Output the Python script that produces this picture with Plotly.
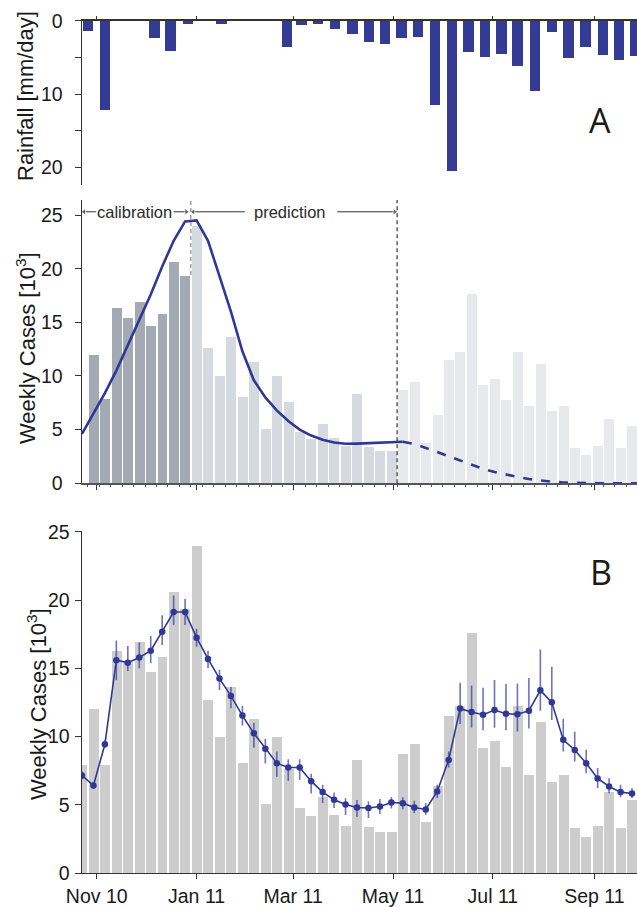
import pandas as pd
import plotly.graph_objects as go

# ---------------- data ----------------
# weekly reported cases (thousands), weeks centred on Saturdays from 23 Oct 2010
week_start = "2010-10-23"
weekly_cases = [7.9, 12.0, 7.9, 16.3, 15.45, 16.9, 14.7, 15.8, 20.6, 19.35,
                23.95, 12.65, 10.0, 13.6, 8.07, 11.3, 5.08, 10.0, 7.6, 4.74,
                4.17, 5.55, 4.25, 3.45, 8.3, 3.37, 2.98, 2.98, 8.7, 9.45,
                3.72, 6.35, 11.5, 12.27, 17.6, 9.15, 9.7, 7.78, 12.27, 7.2,
                11.1, 6.7, 7.2, 3.27, 2.66, 3.48, 5.97, 3.3, 5.37]

# model calibrated on the first weeks, then run forward (panel A)
model_calibrated = [4.6, 6.5, 8.4, 10.5, 12.9, 15.2, 17.6, 20.2, 22.6, 24.4,
                    24.5, 22.6, 19.4, 16.0, 12.3, 9.6, 8.0, 6.8, 5.8, 5.0,
                    4.45, 4.05, 3.8, 3.68, 3.7, 3.74, 3.8, 3.88, 3.87, 3.65,
                    3.3, 2.9, 2.5, 2.1, 1.7, 1.35, 1.05, 0.8, 0.6, 0.4,
                    0.25, 0.15, 0.08, 0.04, 0.02, 0.01, 0.01, 0.0, 0.0, 0.0]

# rainfall-driven model fit with uncertainty (panel B)
fit_mean = [7.15, 6.41, 9.44, 15.6, 15.42, 15.79, 16.3, 17.69, 19.13, 19.13,
            17.25, 15.69, 14.25, 12.98, 11.54, 10.24, 9.1, 8.05, 7.73, 7.73,
            6.73, 5.93, 5.37, 5.02, 4.8, 4.76, 4.88, 5.17, 5.12, 4.8,
            4.66, 5.98, 8.29, 12.05, 11.8, 11.6, 11.95, 11.68, 11.63, 11.9,
            13.39, 12.51, 9.76, 9.02, 8.05, 6.93, 6.34, 5.93, 5.83]
fit_err_hi = [0.3, 0.25, 0.3, 1.45, 1.22, 1.1, 1.08, 1.2, 1.22, 0.95,
              0.66, 0.61, 0.64, 0.68, 0.7, 0.78, 0.73, 0.85, 0.61, 0.61,
              0.54, 0.54, 0.54, 0.46, 0.56, 0.49, 0.54, 0.39, 0.44, 0.49,
              0.46, 0.49, 0.61, 1.9, 1.95, 1.98, 2.2, 2.18, 2.27, 2.4,
              3.0, 2.6, 1.54, 1.34, 0.98, 0.76, 0.61, 0.54, 0.39]
fit_err_lo = [0.3, 0.25, 0.3, 1.47, 0.61, 0.78, 0.93, 0.98, 0.95, 0.95,
              0.66, 0.68, 0.83, 0.9, 0.73, 1.05, 1.07, 1.0, 0.98, 0.9,
              0.9, 0.8, 0.61, 0.76, 0.7, 0.73, 0.56, 0.44, 0.44, 0.41,
              0.39, 0.49, 0.56, 1.13, 1.14, 1.14, 1.3, 1.22, 1.26, 1.3,
              1.5, 1.3, 0.85, 0.85, 0.73, 0.71, 0.49, 0.37, 0.34]

# dekadal rainfall (mm/day), from the 21-31 Oct 2010 dekad to 21-30 Sep 2011
rainfall = [1.36,
            12.1, 0.0, 0.0,
            2.31, 4.08, 0.41,
            0.0, 0.41, 0.0,
            0.0, 0.0, 3.54,
            0.54, 0.41, 1.09,
            1.77, 2.86, 3.13,
            2.31, 2.18, 11.43,
            20.4, 4.22, 4.9,
            4.49, 6.12, 9.52,
            1.5, 5.03, 3.54,
            4.63, 5.31, 4.76]

calibration_end = pd.Timestamp("2010-12-28 12:00")
prediction_end = pd.Timestamp("2011-05-03 12:00")

# ---------------- derived x positions ----------------
DAY_MS = 86400000
weeks = pd.date_range(week_start, periods=len(weekly_cases), freq="7D")
model_weeks = pd.date_range(week_start, periods=len(model_calibrated), freq="7D")

dekad_starts = []
for m in pd.date_range("2010-10-01", "2011-09-01", freq="MS"):
    for d in (1, 11, 21):
        dekad_starts.append(m + pd.Timedelta(days=d - 1))
dekad_starts = dekad_starts[2:]
dekad_ends = dekad_starts[1:] + [pd.Timestamp("2011-10-01")]
dekad_mid = [s + (e - s) / 2 for s, e in zip(dekad_starts, dekad_ends)]

NAVY = "#2f3995"
RAIN = "#343b94"

fig = go.Figure()

# rainfall (top)
fig.add_trace(go.Bar(x=dekad_mid, y=rainfall, width=6.4 * DAY_MS,
                     marker=dict(color=RAIN, line=dict(width=0)),
                     xaxis="x", yaxis="y", showlegend=False))

# panel A bars, shaded by calibration / prediction / later
a_weeks = weeks[1:]
a_cases = weekly_cases[1:]
a_colors = []
for w in a_weeks:
    if w < calibration_end:
        a_colors.append("#a3aab3")
    elif w < prediction_end:
        a_colors.append("#d5d9e0")
    else:
        a_colors.append("#e8e9ed")
fig.add_trace(go.Bar(x=a_weeks, y=a_cases, width=6.1 * DAY_MS,
                     marker=dict(color=a_colors, line=dict(width=0)),
                     xaxis="x2", yaxis="y2", showlegend=False))

solid_idx = [i for i, w in enumerate(model_weeks) if w <= prediction_end + pd.Timedelta(days=4)]
split = solid_idx[-1]
fig.add_trace(go.Scatter(x=model_weeks[:split + 1], y=model_calibrated[:split + 1],
                         mode="lines", line=dict(color=NAVY, width=2.6),
                         xaxis="x2", yaxis="y2", showlegend=False))
fig.add_trace(go.Scatter(x=model_weeks[split:], y=model_calibrated[split:],
                         mode="lines", line=dict(color=NAVY, width=2.6, dash="9px,9px"),
                         xaxis="x2", yaxis="y2", showlegend=False))

# panel B
fig.add_trace(go.Bar(x=weeks, y=weekly_cases, width=6.1 * DAY_MS,
                     marker=dict(color="#cdcdcd", line=dict(width=0)),
                     xaxis="x3", yaxis="y3", showlegend=False))
fig.add_trace(go.Scatter(x=weeks, y=fit_mean, mode="lines+markers",
                         line=dict(color=NAVY, width=1.6),
                         marker=dict(color=NAVY, size=6.5),
                         error_y=dict(type="data", symmetric=False,
                                      array=fit_err_hi, arrayminus=fit_err_lo,
                                      color="rgba(50,62,160,0.72)", thickness=1.6, width=0),
                         xaxis="x3", yaxis="y3", showlegend=False))

# interval arrows above panel A
ann_y = 25.3


def add_arrow(tail, head, direction):
    fig.add_trace(go.Scatter(x=[tail, head], y=[ann_y, ann_y], mode="lines+markers",
                             line=dict(color="#333333", width=1),
                             marker=dict(symbol=["circle", "triangle-" + direction],
                                         size=[0, 6], color="#333333"),
                             xaxis="x2", yaxis="y2", showlegend=False, hoverinfo="skip"))


add_arrow("2010-10-31 12:00", "2010-10-24 06:00", "left")
add_arrow("2010-12-18 00:00", "2010-12-25 18:00", "right")
add_arrow("2011-01-30 12:00", "2010-12-30 00:00", "left")
add_arrow("2011-03-28 00:00", "2011-05-02 00:00", "right")

x_range = ["2010-10-22 20:00", "2011-09-27 01:00"]
x_dom = [81.7 / 637, 1.0]
FONT = "Liberation Sans, Arial, sans-serif"
AX = "#333333"


def xaxis_common(**kw):
    d = dict(type="date", range=x_range, domain=x_dom, showgrid=False, zeroline=False,
             tick0="2010-11-01", dtick="M2", tickformat="%b %y",
             ticks="outside", tickcolor=AX, showline=True, linecolor=AX,
             automargin=False, tickfont=dict(family=FONT, size=19.5, color="#1a1a1a"))
    d.update(kw)
    return d


def yaxis_common(**kw):
    d = dict(showgrid=False, zeroline=False, showline=True, linecolor=AX, linewidth=1.4,
             ticks="outside", ticklen=6, tickcolor=AX, automargin=False,
             tickfont=dict(family=FONT, size=19.5, color="#1a1a1a"))
    d.update(kw)
    return d


def py(p):
    return 1 - p / 907.0


fig.update_layout(
    width=637, height=907,
    margin=dict(l=0, r=0, t=0, b=0),
    paper_bgcolor="white", plot_bgcolor="white",
    bargap=0,
    xaxis=xaxis_common(anchor="y", side="top", showticklabels=False, ticklen=3,
                       linewidth=1.6),
    yaxis=yaxis_common(domain=[py(185), py(20.7)], range=[22.4, 0], anchor="x",
                       tickvals=[0, 10, 20], ticklabelstandoff=8,
                       minor=dict(dtick=5, ticks="outside", ticklen=6, tickcolor=AX)),
    xaxis2=xaxis_common(anchor="y2", showticklabels=False, ticklen=5, linewidth=2,
                        linecolor="#555555",
                        minor=dict(ticks="outside", ticklen=2, tickcolor="#555555",
                                   tick0="2010-10-26 12:00", dtick=7 * DAY_MS)),
    yaxis2=yaxis_common(domain=[py(483.3), py(200)], range=[0, 26.4], anchor="x2",
                        tickvals=[0, 5, 10, 15, 20, 25], ticklabelstandoff=8),
    xaxis3=xaxis_common(anchor="y3", ticklen=5, linewidth=1.4),
    yaxis3=yaxis_common(domain=[py(873), py(531)], range=[0, 25.07], anchor="x3",
                        tickvals=[0, 5, 10, 15, 20, 25], ticklabelstandoff=1),
)

# calibration / prediction boundaries
fig.add_shape(type="line", xref="x2", yref="y2", x0=calibration_end, x1=calibration_end,
              y0=19.4, y1=26.4, line=dict(color="#8a8a8a", width=1.2, dash="4px,3px"))
fig.add_shape(type="line", xref="x2", yref="y2", x0=prediction_end, x1=prediction_end,
              y0=0, y1=26.4, line=dict(color="#222222", width=1.1, dash="4px,3px"))

ann = []
TXT = dict(family=FONT, size=16.5, color="#2a2a2a")
ann.append(dict(xref="x2", yref="y2", x="2010-11-24", y=ann_y, text="calibration",
                showarrow=False, font=TXT))
ann.append(dict(xref="x2", yref="y2", x="2011-02-27", y=ann_y, text="prediction",
                showarrow=False, font=TXT))

TITLE = dict(family=FONT, size=22, color="#1a1a1a")
ann.append(dict(xref="paper", yref="paper", x=26 / 637, y=py(96), text="Rainfall [mm/day]",
                textangle=-90, showarrow=False, font=TITLE, xanchor="center", yanchor="middle"))
ann.append(dict(xref="paper", yref="paper", x=26 / 637, y=py(348),
                text="Weekly Cases [10<sup>3</sup>]",
                textangle=-90, showarrow=False, font=TITLE, xanchor="center", yanchor="middle"))
ann.append(dict(xref="paper", yref="paper", x=37 / 637, y=py(704),
                text="Weekly Cases [10<sup>3</sup>]",
                textangle=-90, showarrow=False, font=TITLE, xanchor="center", yanchor="middle"))

PANEL = dict(family="Open Sans, sans-serif", size=34, color="#1a1a1a")
ann.append(dict(xref="paper", yref="paper", x=600 / 637, y=py(119.5), text="A",
                showarrow=False, font=PANEL, xanchor="center", yanchor="middle"))
ann.append(dict(xref="paper", yref="paper", x=601 / 637, y=py(572), text="B",
                showarrow=False, font=PANEL, xanchor="center", yanchor="middle"))

fig.update_layout(annotations=ann)

fig.write_html("out.html")
